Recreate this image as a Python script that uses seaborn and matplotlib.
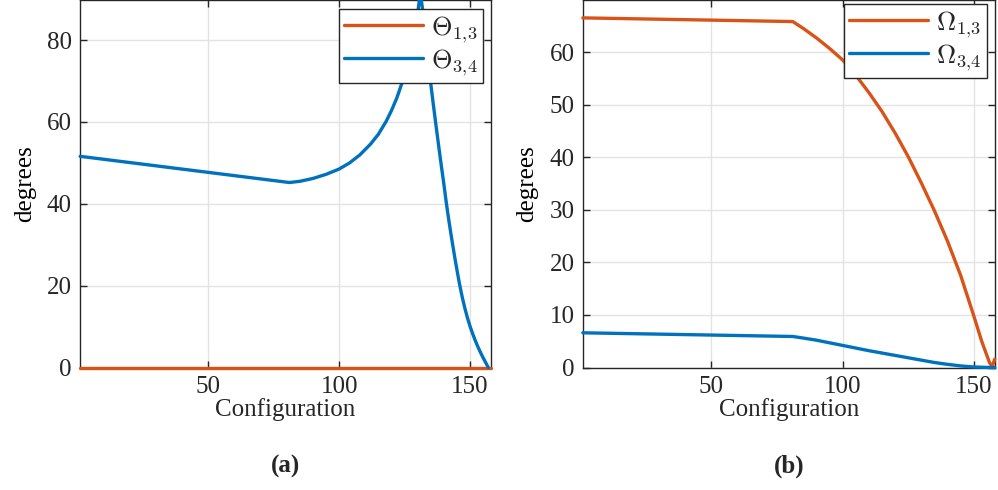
import matplotlib
matplotlib.use('Agg')
import matplotlib.pyplot as plt
import seaborn as sns

# (a) Theta angles vs configuration
x_t13 = [1, 158]
theta_13 = [0, 0]

x_t34 = [1, 81, 85, 90, 95, 100, 104, 108, 112, 115, 118, 120, 122, 124, 126, 128, 129, 130,
         131, 132, 133, 134, 135, 136, 137, 138, 139, 140, 141, 142, 143, 144, 145, 146, 147,
         148, 149, 150, 151, 152, 153, 154, 155, 156, 157]
theta_34 = [51.6, 45.2, 45.5, 46.2, 47.2, 48.5, 50.0, 52.0, 54.6, 57.0, 60.2, 62.8, 65.8, 69.5,
            74.0, 79.5, 82.8, 86.5, 91.5, 87.0, 80.5, 74.8, 69.4, 64.2, 59.2, 54.3, 49.5, 44.9,
            40.0, 35.6, 31.5, 27.6, 23.9, 20.4, 17.3, 14.6, 12.2, 10.1, 8.3, 6.6, 5.1, 3.7, 2.4,
            1.2, 0.0]

# (b) Omega angles vs configuration
x_o13 = [1, 81, 85, 90, 95, 100, 105, 110, 115, 120, 125, 130, 135, 140, 145, 150, 153, 156,
         157, 158]
omega_13 = [66.5, 65.8, 64.5, 62.7, 60.7, 58.5, 55.6, 52.3, 48.7, 44.6, 40.1, 35.1, 29.8, 24.0,
            17.5, 9.8, 5.0, 0.9, 0.2, 1.6]

x_o34 = [1, 81, 85, 90, 95, 100, 105, 110, 115, 120, 125, 130, 135, 140, 145, 150, 155, 158]
omega_34 = [6.6, 5.9, 5.6, 5.2, 4.7, 4.2, 3.7, 3.2, 2.75, 2.3, 1.85, 1.4, 0.95, 0.6, 0.3, 0.1,
            0.02, 0.0]

orange = '#D95319'
blue = '#0072BD'
dark = '#262626'

sns.set_style('ticks')
plt.rcParams['font.family'] = ['Liberation Serif', 'DejaVu Serif']
plt.rcParams['mathtext.fontset'] = 'cm'

fig = plt.figure(figsize=(9.98, 4.90), dpi=100)
ax1 = fig.add_axes([0.0803, 0.25, 0.4116, 0.75])
ax2 = fig.add_axes([0.584, 0.25, 0.4128, 0.75])

lw = 2.4
sns.lineplot(x=x_t13, y=theta_13, ax=ax1, color=orange, linewidth=lw, label=r'$\Theta_{1{,}3}$')
sns.lineplot(x=x_t34, y=theta_34, ax=ax1, color=blue, linewidth=lw, label=r'$\Theta_{3{,}4}$')
sns.lineplot(x=x_o13, y=omega_13, ax=ax2, color=orange, linewidth=lw, label=r'$\Omega_{1{,}3}$')
sns.lineplot(x=x_o34, y=omega_34, ax=ax2, color=blue, linewidth=lw, label=r'$\Omega_{3{,}4}$')

ax1.set_ylim(0, 89.8)
ax1.set_yticks([0, 20, 40, 60, 80])
ax2.set_ylim(0, 69.9)
ax2.set_yticks([0, 10, 20, 30, 40, 50, 60])

for ax, tag, right_off, top_off in [(ax1, '(a)', 8 / 411, 9 / 367), (ax2, '(b)', 8 / 412, 4 / 367)]:
    for i, line in enumerate(ax.get_lines()):
        line.set_clip_on(False)
        line.set_zorder(3 + i)
    ax.set_xlim(1, 158)
    ax.set_xticks([50, 100, 150])
    ax.grid(True, color='#e3e3e3', linewidth=1)
    ax.set_axisbelow(True)
    ax.tick_params(direction='in', length=5, width=1, colors=dark, labelsize=18,
                   top=True, right=True, pad=6)
    for s in ax.spines.values():
        s.set_visible(True)
        s.set_color(dark)
        s.set_linewidth(1)
    ax.set_xlabel('Configuration', fontsize=18, color=dark, labelpad=0)
    ax.set_ylabel('degrees', fontsize=18, color='black', labelpad=8)
    ax.text(0.5, -0.268, tag, transform=ax.transAxes, ha='center', va='center',
            fontsize=18, fontweight='bold')
    leg = ax.legend(loc='upper right', bbox_to_anchor=(1 - right_off, 1 - top_off),
                    borderaxespad=0, fontsize=19, handlelength=3.0, handletextpad=0.3,
                    labelspacing=0.1, borderpad=0.2, fancybox=False, framealpha=1,
                    edgecolor=dark)
    leg.get_frame().set_linewidth(1)
    leg.set_zorder(10)

fig.savefig('out.png', dpi=100)
